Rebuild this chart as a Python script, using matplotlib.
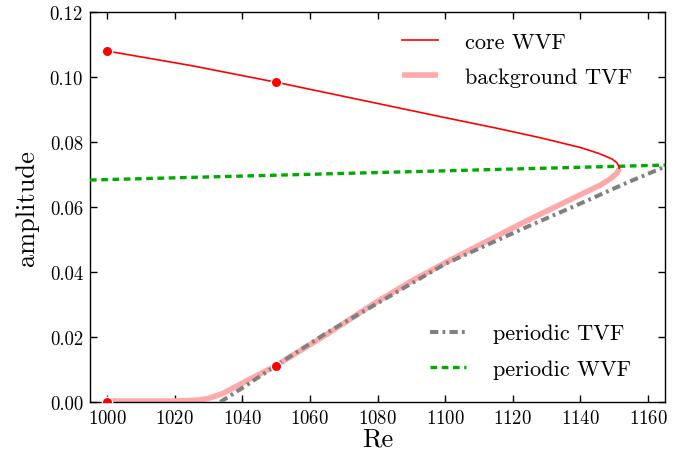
import numpy as np
import matplotlib
matplotlib.use("Agg")
import matplotlib.pyplot as plt

plt.rcParams["font.family"] = "serif"
plt.rcParams["font.serif"] = ["cmr10"]
plt.rcParams["mathtext.fontset"] = "cm"
plt.rcParams["axes.formatter.use_mathtext"] = True
plt.rcParams["lines.scale_dashes"] = False

# ── data ──────────────────────────────────────────────
core_re = [1000, 1025, 1050, 1083.5, 1100, 1115, 1128.6, 1140, 1145.4,
           1149.3, 1150.7, 1151.3, 1151.5]
core_amp = [0.1080, 0.1035, 0.0984, 0.0911, 0.0875, 0.0843, 0.0812, 0.0783,
            0.0765, 0.0748, 0.0737, 0.0727, 0.0719]

bg_re = [1000, 1020, 1027, 1030, 1034, 1039, 1042, 1050, 1065, 1078.5,
         1090, 1101, 1124, 1141.6, 1146, 1149, 1150.8, 1151.5]
bg_amp = [0.0003, 0.0003, 0.0006, 0.0011, 0.0025, 0.0052, 0.0069, 0.0112,
          0.0208, 0.0300, 0.0372, 0.0434, 0.0557, 0.0646, 0.0668, 0.0688,
          0.0704, 0.0719]

ptvf_re = [1033.5, 1040, 1050, 1065, 1100, 1124, 1141.6, 1154, 1165]
ptvf_amp = [0.0, 0.0043, 0.0112, 0.0213, 0.0425, 0.0538, 0.0618, 0.0676, 0.0724]

pwvf_re = [995, 1165]
pwvf_amp = [0.0683, 0.0729]

dot_re = [1000, 1050, 1050, 1000]
dot_amp = [0.1080, 0.0984, 0.0112, 0.0]

fig = plt.figure(figsize=(6.84, 4.56), dpi=100)
ax = fig.add_axes([90 / 684, 1 - 403 / 456, 575 / 684, 390 / 456])

ax.plot(bg_re, bg_amp, color="#ffaaaa", lw=4, label="background TVF",
        solid_capstyle="butt", zorder=2)
ax.plot(ptvf_re, ptvf_amp, color="#808080", lw=2.9, dashes=(6, 3, 2, 3),
        label="periodic TVF", zorder=3)
ax.plot(pwvf_re, pwvf_amp, color="#00aa00", lw=2.4, dashes=(4.8, 3.3),
        label="periodic WVF", zorder=3)
ax.plot(core_re, core_amp, color="#ff0000", lw=1.2, label="core WVF", zorder=4)
ax.plot(dot_re, dot_amp, "o", color="#ff0000", ms=7.5, mec="white", mew=1, zorder=5)

ax.set_xlim(995, 1165)
ax.set_ylim(0, 0.12)
ax.set_xticks(np.arange(1000, 1161, 20))
ax.set_yticks(np.arange(0, 0.121, 0.02))
ax.yaxis.set_major_formatter(matplotlib.ticker.FormatStrFormatter("%.2f"))
ax.tick_params(direction="in", top=True, right=True, length=5, width=1,
               labelsize=13.5, pad=5)
for s in ax.spines.values():
    s.set_linewidth(1)

ax.set_xlabel("Re", fontsize=19, labelpad=0)
ax.set_ylabel("amplitude", fontsize=19, labelpad=8)

h, l = ax.get_legend_handles_labels()
hd = dict(zip(l, h))
leg1 = ax.legend([hd["core WVF"], hd["background TVF"]], ["core WVF", "background TVF"],
                 loc="upper right", bbox_to_anchor=(0.977, 1.0), frameon=False,
                 fontsize=16, handlelength=1.6, handletextpad=1.2, labelspacing=0.72)
ax.add_artist(leg1)
ax.legend([hd["periodic TVF"], hd["periodic WVF"]], ["periodic TVF", "periodic WVF"],
          loc="lower right", bbox_to_anchor=(0.975, 0.008), frameon=False,
          fontsize=16, handlelength=1.6, handletextpad=1.2, labelspacing=0.72)

fig.savefig("out.png", dpi=100)
